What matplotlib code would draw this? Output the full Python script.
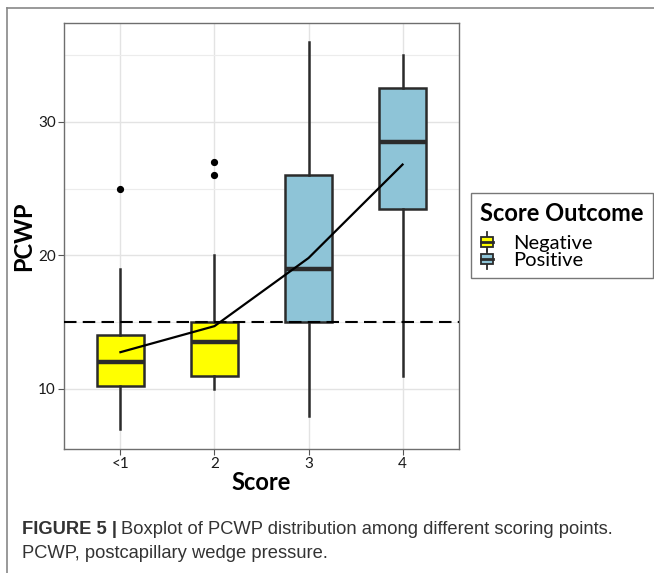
import matplotlib
matplotlib.use("Agg")
import matplotlib.pyplot as plt
from matplotlib.lines import Line2D
from matplotlib.patches import Rectangle, Patch
from matplotlib.legend_handler import HandlerBase

plt.rcParams['font.family'] = ['Lato', 'DejaVu Sans']

# summary statistics per score group
scores = ['<1', '2', '3', '4']
outcome = ['Negative', 'Negative', 'Positive', 'Positive']
whislo = [7, 10, 8, 11]
q1 = [10.2, 11, 15, 23.5]
med = [12, 13.5, 19, 28.5]
q3 = [14, 15, 26, 32.5]
whishi = [19, 20, 36, 35]
fliers = [[25], [26, 27], [], []]
means = [12.75, 14.7, 19.8, 26.8]
cutoff = 15

fill = {'Negative': '#FFFF00', 'Positive': '#8EC4D7'}
edge = '#2b2b2b'

fig = plt.figure(figsize=(6.54, 5.73), dpi=100)
ax = fig.add_axes([0.0979, 0.2164, 0.6039, 0.7435])

stats = []
for i in range(len(scores)):
    stats.append(dict(label=scores[i], whislo=whislo[i], q1=q1[i], med=med[i],
                      q3=q3[i], whishi=whishi[i], fliers=fliers[i]))

pos = list(range(1, len(scores) + 1))
bp = ax.bxp(stats, positions=pos, widths=0.5, patch_artist=True, showcaps=False,
            boxprops=dict(edgecolor=edge, linewidth=1.8),
            whiskerprops=dict(color=edge, linewidth=1.8),
            medianprops=dict(color=edge, linewidth=3.2, solid_capstyle='butt'),
            flierprops=dict(marker='o', markerfacecolor='black', markeredgecolor='black',
                            markersize=4.2, linestyle='none'),
            zorder=3)
for patch, grp in zip(bp['boxes'], outcome):
    patch.set_facecolor(fill[grp])

ax.axhline(cutoff, color='black', linewidth=1.5, linestyle=(0, (6, 3)), zorder=4)
ax.plot(pos, means, color='black', linewidth=1.6, zorder=5)

ax.set_xlim(0.4, 4.6)
ax.set_ylim(5.5, 37.4)
ax.set_xticks(pos)
ax.set_xticklabels(scores)
ax.set_yticks([10, 20, 30])
ax.set_yticks([15, 25, 35], minor=True)
ax.grid(True, which='major', color='#e3e3e3', linewidth=1.0, zorder=0)
ax.grid(True, which='minor', axis='y', color='#ececec', linewidth=0.8, zorder=0)
ax.set_axisbelow(True)
ax.tick_params(axis='both', which='major', length=4, width=0.8, color='#555555',
               labelsize=11, labelcolor='#1a1a1a', pad=2)
ax.tick_params(axis='y', which='minor', length=0)
for sp in ax.spines.values():
    sp.set_color('#6e6e6e')
    sp.set_linewidth(1.0)

ax.set_xlabel('Score', fontsize=17, fontweight='bold', labelpad=0)
ax.set_ylabel('PCWP', fontsize=17, fontweight='bold')
ax.yaxis.set_label_coords(-0.072, 0.5)


class HandlerBox(HandlerBase):
    # tiny boxplot glyph for legend keys
    def create_artists(self, legend, orig_handle, xdescent, ydescent, width, height,
                       fontsize, trans):
        cx = width / 2 - xdescent
        w = width * 0.8
        box_h = height * 0.75
        y0 = -ydescent + (height - box_h) / 2
        whisk = Line2D([cx, cx], [y0 - height * 0.3, y0 + box_h + height * 0.3],
                       color=edge, linewidth=1.3, transform=trans)
        rect = Rectangle((cx - w / 2, y0), w, box_h, facecolor=orig_handle.get_facecolor(),
                         edgecolor=edge, linewidth=1.3, transform=trans)
        mid = Line2D([cx - w / 2, cx + w / 2], [y0 + box_h / 2] * 2, color=edge,
                     linewidth=2.0, transform=trans)
        return [whisk, rect, mid]


handles = [Patch(facecolor=fill['Negative']), Patch(facecolor=fill['Positive'])]
leg = fig.legend(handles, ['Negative', 'Positive'], title='Score Outcome',
                 handler_map={Patch: HandlerBox()},
                 loc='upper left', bbox_to_anchor=(0.720, 0.663),
                 fontsize=14.5, title_fontproperties=dict(size=17, weight='bold'),
                 frameon=True, fancybox=False, edgecolor='#555555',
                 handlelength=0.7, handleheight=0.7, handletextpad=0.95,
                 labelspacing=0.0, borderpad=0.45, borderaxespad=0)
leg._legend_box.align = 'left'
leg._legend_box.sep = 7
leg.get_frame().set_linewidth(1.0)

# outer frame lines (top and left)
fig.add_artist(Line2D([7 / 654, 1], [1 - 8 / 573] * 2, color='#888888', linewidth=1.2))
fig.add_artist(Line2D([7 / 654] * 2, [0, 1 - 8 / 573], color='#888888', linewidth=1.2))

# caption
cap_font = ['Liberation Sans', 'DejaVu Sans']
t1 = fig.text(22 / 654, 1 - 529 / 573, 'FIGURE 5 |', fontsize=13.2, fontweight='bold',
              family=cap_font, color='#333333', va='center', ha='left')
fig.canvas.draw()
bb = t1.get_window_extent()
fig.text((bb.x1 + 4) / 654, 1 - 529 / 573,
         'Boxplot of PCWP distribution among different scoring points.',
         fontsize=13.2, family=cap_font, color='#333333', va='center', ha='left')
fig.text(22 / 654, 1 - 553 / 573, 'PCWP, postcapillary wedge pressure.', fontsize=13.2,
         family=cap_font, color='#333333', va='center', ha='left')

fig.savefig('out.png', dpi=100)
